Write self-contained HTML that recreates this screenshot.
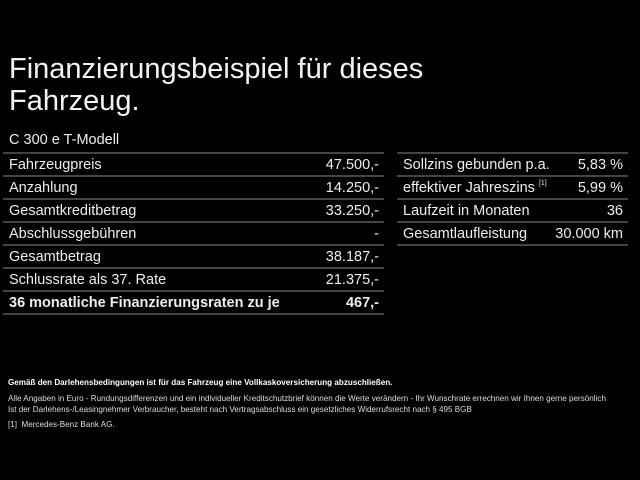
<!DOCTYPE html>
<html><head><meta charset="utf-8"><style>
body{margin:0;background:#000;width:640px;height:480px;overflow:hidden;position:relative;font-family:"Liberation Sans",sans-serif;color:#eee}
.t{position:absolute;left:9px;top:53px;font-size:29px;line-height:32px;color:#f4f4f4}
.m{position:absolute;left:9px;top:132px;font-size:14.5px}
.col{position:absolute;top:152px}
.row{height:21px;border-top:2px solid #444;display:flex;justify-content:space-between;align-items:center;font-size:14.5px;padding:0 5px 0 6px}
.last{border-bottom:2px solid #444}
.b{font-weight:bold}
sup{font-size:7px;vertical-align:7px}
.f{position:absolute;left:8px;font-size:8.1px;color:#ddd;white-space:nowrap}
</style></head><body>
<div class="t">Finanzierungsbeispiel für dieses<br>Fahrzeug.</div>
<div class="m">C 300 e T-Modell</div>
<div class="col" style="left:3px;width:381px">
<div class="row"><span>Fahrzeugpreis</span><span>47.500,-</span></div>
<div class="row"><span>Anzahlung</span><span>14.250,-</span></div>
<div class="row"><span>Gesamtkreditbetrag</span><span>33.250,-</span></div>
<div class="row"><span>Abschlussgebühren</span><span>-</span></div>
<div class="row"><span>Gesamtbetrag</span><span>38.187,-</span></div>
<div class="row"><span>Schlussrate als 37. Rate</span><span>21.375,-</span></div>
<div class="row last b"><span>36 monatliche Finanzierungsraten zu je</span><span>467,-</span></div>
</div>
<div class="col" style="left:397px;width:231px">
<div class="row"><span>Sollzins gebunden p.a.</span><span>5,83 %</span></div>
<div class="row"><span>effektiver Jahreszins <sup>[1]</sup></span><span>5,99 %</span></div>
<div class="row"><span>Laufzeit in Monaten</span><span>36</span></div>
<div class="row last"><span>Gesamtlaufleistung</span><span>30.000 km</span></div>
</div>
<div class="f b" style="top:378px;color:#fff">Gemäß den Darlehensbedingungen ist für das Fahrzeug eine Vollkaskoversicherung abzuschließen.</div>
<div class="f" style="top:394px">Alle Angaben in Euro - Rundungsdifferenzen und ein individueller Kreditschutzbrief können die Werte verändern - Ihr Wunschrate errechnen wir Ihnen gerne persönlich</div>
<div class="f" style="top:405px">Ist der Darlehens-/Leasingnehmer Verbraucher, besteht nach Vertragsabschluss ein gesetzliches Widerrufsrecht nach § 495 BGB</div>
<div class="f" style="top:420px">[1]&nbsp; Mercedes-Benz Bank AG.</div>
</body></html>
